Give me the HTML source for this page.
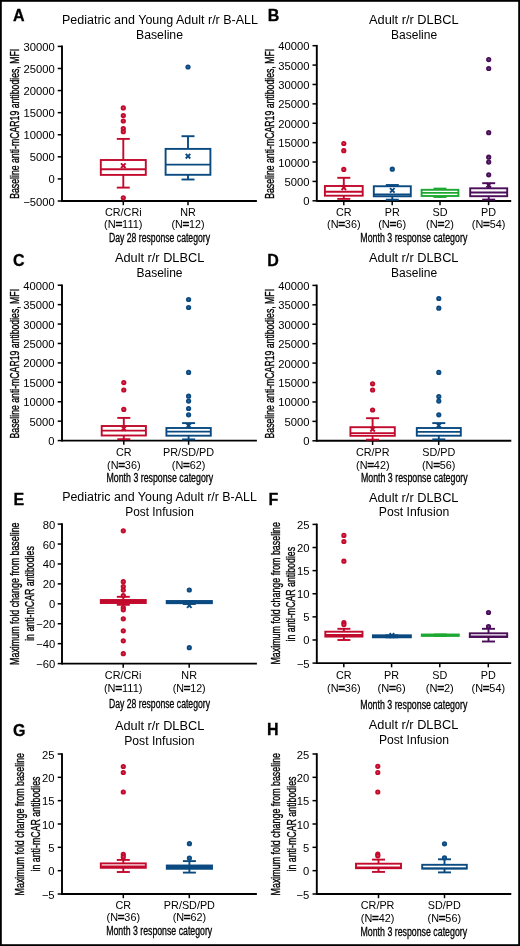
<!DOCTYPE html>
<html><head><meta charset="utf-8"><style>
html,body{margin:0;padding:0;background:#fff;}
body{width:520px;height:946px;overflow:hidden;}
svg{display:block;filter:blur(0.3px);font-family:"Liberation Sans", sans-serif;}
</style></head><body>
<svg width="520" height="946" viewBox="0 0 520 946">
<rect x="0" y="0" width="520" height="946" fill="#fff"/>
<rect x="0.9" y="0.9" width="518.2" height="944.2" fill="none" stroke="#000" stroke-width="1.8"/>
<text x="13" y="21.3" font-size="16" text-anchor="start" font-weight="bold" fill="#000" stroke="#000" stroke-width="0.3">A</text>
<text x="160" y="23.9" font-size="12.3" text-anchor="middle" font-weight="normal" fill="#000" textLength="196" lengthAdjust="spacingAndGlyphs">Pediatric and Young Adult r/r B-ALL</text>
<text x="159.5" y="38.9" font-size="12.3" text-anchor="middle" font-weight="normal" fill="#000" textLength="47" lengthAdjust="spacingAndGlyphs">Baseline</text>
<line x1="62" y1="45.6" x2="62" y2="201.9" stroke="#000" stroke-width="1.9"/>
<line x1="57.7" y1="46.4" x2="62" y2="46.4" stroke="#000" stroke-width="1.5"/>
<text x="54.8" y="50.916000000000004" font-size="10.6" text-anchor="end" font-weight="normal" fill="#000" textLength="31.24" lengthAdjust="spacingAndGlyphs">30000</text>
<line x1="57.7" y1="68.48571428571428" x2="62" y2="68.48571428571428" stroke="#000" stroke-width="1.5"/>
<text x="54.8" y="73.00171428571429" font-size="10.6" text-anchor="end" font-weight="normal" fill="#000" textLength="31.24" lengthAdjust="spacingAndGlyphs">25000</text>
<line x1="57.7" y1="90.57142857142857" x2="62" y2="90.57142857142857" stroke="#000" stroke-width="1.5"/>
<text x="54.8" y="95.08742857142857" font-size="10.6" text-anchor="end" font-weight="normal" fill="#000" textLength="31.24" lengthAdjust="spacingAndGlyphs">20000</text>
<line x1="57.7" y1="112.65714285714284" x2="62" y2="112.65714285714284" stroke="#000" stroke-width="1.5"/>
<text x="54.8" y="117.17314285714285" font-size="10.6" text-anchor="end" font-weight="normal" fill="#000" textLength="31.24" lengthAdjust="spacingAndGlyphs">15000</text>
<line x1="57.7" y1="134.74285714285713" x2="62" y2="134.74285714285713" stroke="#000" stroke-width="1.5"/>
<text x="54.8" y="139.25885714285712" font-size="10.6" text-anchor="end" font-weight="normal" fill="#000" textLength="31.24" lengthAdjust="spacingAndGlyphs">10000</text>
<line x1="57.7" y1="156.82857142857142" x2="62" y2="156.82857142857142" stroke="#000" stroke-width="1.5"/>
<text x="54.8" y="161.3445714285714" font-size="10.6" text-anchor="end" font-weight="normal" fill="#000" textLength="25.0" lengthAdjust="spacingAndGlyphs">5000</text>
<line x1="57.7" y1="178.9142857142857" x2="62" y2="178.9142857142857" stroke="#000" stroke-width="1.5"/>
<text x="54.8" y="183.4302857142857" font-size="10.6" text-anchor="end" font-weight="normal" fill="#000" textLength="6.25" lengthAdjust="spacingAndGlyphs">0</text>
<line x1="57.7" y1="201.0" x2="62" y2="201.0" stroke="#000" stroke-width="1.5"/>
<text x="54.8" y="205.516" font-size="10.6" text-anchor="end" font-weight="normal" fill="#000" textLength="31.56" lengthAdjust="spacingAndGlyphs">−5000</text>
<text transform="translate(19.2,123.8) rotate(-90)" font-size="12.0" text-anchor="middle" font-weight="normal" fill="#000" textLength="150" lengthAdjust="spacingAndGlyphs" stroke="#000" stroke-width="0.35">Baseline anti-mCAR19 antibodies, MFI</text>
<line x1="62" y1="201.0" x2="256.9" y2="201.0" stroke="#000" stroke-width="1.9"/>
<line x1="123.3" y1="201.0" x2="123.3" y2="205.2" stroke="#000" stroke-width="1.5"/>
<line x1="188" y1="201.0" x2="188" y2="205.2" stroke="#000" stroke-width="1.5"/>
<text x="123.3" y="215.7" font-size="10.2" text-anchor="middle" font-weight="normal" fill="#000" textLength="36.64" lengthAdjust="spacingAndGlyphs">CR/CRi</text>
<text x="123.3" y="228.39999999999998" font-size="10.2" text-anchor="middle" font-weight="normal" fill="#000" textLength="38.5" lengthAdjust="spacingAndGlyphs">(N<tspan stroke="#000" stroke-width="0.9">=</tspan>111)</text>
<text x="188" y="215.7" font-size="10.2" text-anchor="middle" font-weight="normal" fill="#000" textLength="15.62" lengthAdjust="spacingAndGlyphs">NR</text>
<text x="188" y="228.39999999999998" font-size="10.2" text-anchor="middle" font-weight="normal" fill="#000" textLength="33" lengthAdjust="spacingAndGlyphs">(N<tspan stroke="#000" stroke-width="0.9">=</tspan>12)</text>
<text x="159.5" y="242.2" font-size="12.0" text-anchor="middle" font-weight="normal" fill="#000" textLength="101" lengthAdjust="spacingAndGlyphs" stroke="#000" stroke-width="0.3">Day 28 response category</text>
<line x1="123.3" y1="138.9" x2="123.3" y2="160.0" stroke="#c20a2c" stroke-width="1.9"/>
<line x1="116.8" y1="138.9" x2="129.8" y2="138.9" stroke="#c20a2c" stroke-width="1.9"/>
<line x1="123.3" y1="174.9" x2="123.3" y2="187.6" stroke="#c20a2c" stroke-width="1.9"/>
<line x1="116.8" y1="187.6" x2="129.8" y2="187.6" stroke="#c20a2c" stroke-width="1.9"/>
<rect x="100.8" y="160.0" width="45.0" height="14.900000000000006" fill="none" stroke="#c20a2c" stroke-width="1.9"/>
<line x1="100.8" y1="169.3" x2="145.8" y2="169.3" stroke="#c20a2c" stroke-width="1.9"/>
<path d="M121.0 163.39999999999998L125.6 168.0M125.6 163.39999999999998L121.0 168.0" stroke="#c20a2c" stroke-width="1.9" fill="none"/>
<circle cx="123.3" cy="107.9" r="1.72" fill="#d84860" stroke="#c20a2c" stroke-width="1.8"/>
<circle cx="123.3" cy="115.5" r="1.72" fill="#d84860" stroke="#c20a2c" stroke-width="1.8"/>
<circle cx="123.3" cy="121.0" r="1.72" fill="#d84860" stroke="#c20a2c" stroke-width="1.8"/>
<circle cx="123.3" cy="128.6" r="1.72" fill="#d84860" stroke="#c20a2c" stroke-width="1.8"/>
<circle cx="123.3" cy="131.7" r="1.72" fill="#d84860" stroke="#c20a2c" stroke-width="1.8"/>
<circle cx="123.3" cy="197.8" r="1.72" fill="#d84860" stroke="#c20a2c" stroke-width="1.8"/>
<line x1="188" y1="136.2" x2="188" y2="148.9" stroke="#0b4a80" stroke-width="1.9"/>
<line x1="181.5" y1="136.2" x2="194.5" y2="136.2" stroke="#0b4a80" stroke-width="1.9"/>
<line x1="188" y1="174.8" x2="188" y2="179.5" stroke="#0b4a80" stroke-width="1.9"/>
<line x1="181.5" y1="179.5" x2="194.5" y2="179.5" stroke="#0b4a80" stroke-width="1.9"/>
<rect x="165.6" y="148.9" width="44.8" height="25.900000000000006" fill="none" stroke="#0b4a80" stroke-width="1.9"/>
<line x1="165.6" y1="164.6" x2="210.4" y2="164.6" stroke="#0b4a80" stroke-width="1.9"/>
<path d="M185.7 153.89999999999998L190.3 158.5M190.3 153.89999999999998L185.7 158.5" stroke="#0b4a80" stroke-width="1.9" fill="none"/>
<circle cx="188" cy="67.0" r="1.72" fill="#3f6f9f" stroke="#0b4a80" stroke-width="1.8"/>
<text x="267.7" y="21.2" font-size="16" text-anchor="start" font-weight="bold" fill="#000" stroke="#000" stroke-width="0.3">B</text>
<text x="413.8" y="23.9" font-size="12.3" text-anchor="middle" font-weight="normal" fill="#000" textLength="89.6" lengthAdjust="spacingAndGlyphs">Adult r/r DLBCL</text>
<text x="414.1" y="38.9" font-size="12.3" text-anchor="middle" font-weight="normal" fill="#000" textLength="46.1" lengthAdjust="spacingAndGlyphs">Baseline</text>
<line x1="316.8" y1="44.900000000000006" x2="316.8" y2="201.70000000000002" stroke="#000" stroke-width="1.9"/>
<line x1="312.5" y1="45.7" x2="316.8" y2="45.7" stroke="#000" stroke-width="1.5"/>
<text x="309.5" y="50.21600000000001" font-size="10.6" text-anchor="end" font-weight="normal" fill="#000" textLength="31.24" lengthAdjust="spacingAndGlyphs">40000</text>
<line x1="312.5" y1="65.0875" x2="316.8" y2="65.0875" stroke="#000" stroke-width="1.5"/>
<text x="309.5" y="69.60350000000001" font-size="10.6" text-anchor="end" font-weight="normal" fill="#000" textLength="31.24" lengthAdjust="spacingAndGlyphs">35000</text>
<line x1="312.5" y1="84.47500000000001" x2="316.8" y2="84.47500000000001" stroke="#000" stroke-width="1.5"/>
<text x="309.5" y="88.99100000000001" font-size="10.6" text-anchor="end" font-weight="normal" fill="#000" textLength="31.24" lengthAdjust="spacingAndGlyphs">30000</text>
<line x1="312.5" y1="103.86250000000001" x2="316.8" y2="103.86250000000001" stroke="#000" stroke-width="1.5"/>
<text x="309.5" y="108.37850000000002" font-size="10.6" text-anchor="end" font-weight="normal" fill="#000" textLength="31.24" lengthAdjust="spacingAndGlyphs">25000</text>
<line x1="312.5" y1="123.25000000000001" x2="316.8" y2="123.25000000000001" stroke="#000" stroke-width="1.5"/>
<text x="309.5" y="127.76600000000002" font-size="10.6" text-anchor="end" font-weight="normal" fill="#000" textLength="31.24" lengthAdjust="spacingAndGlyphs">20000</text>
<line x1="312.5" y1="142.63750000000002" x2="316.8" y2="142.63750000000002" stroke="#000" stroke-width="1.5"/>
<text x="309.5" y="147.1535" font-size="10.6" text-anchor="end" font-weight="normal" fill="#000" textLength="31.24" lengthAdjust="spacingAndGlyphs">15000</text>
<line x1="312.5" y1="162.02500000000003" x2="316.8" y2="162.02500000000003" stroke="#000" stroke-width="1.5"/>
<text x="309.5" y="166.54100000000003" font-size="10.6" text-anchor="end" font-weight="normal" fill="#000" textLength="31.24" lengthAdjust="spacingAndGlyphs">10000</text>
<line x1="312.5" y1="181.41250000000002" x2="316.8" y2="181.41250000000002" stroke="#000" stroke-width="1.5"/>
<text x="309.5" y="185.9285" font-size="10.6" text-anchor="end" font-weight="normal" fill="#000" textLength="25.0" lengthAdjust="spacingAndGlyphs">5000</text>
<line x1="312.5" y1="200.8" x2="316.8" y2="200.8" stroke="#000" stroke-width="1.5"/>
<text x="309.5" y="205.316" font-size="10.6" text-anchor="end" font-weight="normal" fill="#000" textLength="6.25" lengthAdjust="spacingAndGlyphs">0</text>
<text transform="translate(274.0,123.8) rotate(-90)" font-size="12.0" text-anchor="middle" font-weight="normal" fill="#000" textLength="150" lengthAdjust="spacingAndGlyphs" stroke="#000" stroke-width="0.35">Baseline anti-mCAR19 antibodies, MFI</text>
<line x1="316.8" y1="201.0" x2="511.2" y2="201.0" stroke="#000" stroke-width="1.9"/>
<line x1="343.8" y1="201.0" x2="343.8" y2="205.2" stroke="#000" stroke-width="1.5"/>
<line x1="392.2" y1="201.0" x2="392.2" y2="205.2" stroke="#000" stroke-width="1.5"/>
<line x1="440" y1="201.0" x2="440" y2="205.2" stroke="#000" stroke-width="1.5"/>
<line x1="488.6" y1="201.0" x2="488.6" y2="205.2" stroke="#000" stroke-width="1.5"/>
<text x="343.8" y="215.7" font-size="10.2" text-anchor="middle" font-weight="normal" fill="#000" textLength="15.62" lengthAdjust="spacingAndGlyphs">CR</text>
<text x="343.8" y="228.39999999999998" font-size="10.2" text-anchor="middle" font-weight="normal" fill="#000" textLength="33.5" lengthAdjust="spacingAndGlyphs">(N<tspan stroke="#000" stroke-width="0.9">=</tspan>36)</text>
<text x="392.2" y="215.7" font-size="10.2" text-anchor="middle" font-weight="normal" fill="#000" textLength="15.02" lengthAdjust="spacingAndGlyphs">PR</text>
<text x="392.2" y="228.39999999999998" font-size="10.2" text-anchor="middle" font-weight="normal" fill="#000" textLength="28" lengthAdjust="spacingAndGlyphs">(N<tspan stroke="#000" stroke-width="0.9">=</tspan>6)</text>
<text x="440" y="215.7" font-size="10.2" text-anchor="middle" font-weight="normal" fill="#000" textLength="15.02" lengthAdjust="spacingAndGlyphs">SD</text>
<text x="440" y="228.39999999999998" font-size="10.2" text-anchor="middle" font-weight="normal" fill="#000" textLength="28" lengthAdjust="spacingAndGlyphs">(N<tspan stroke="#000" stroke-width="0.9">=</tspan>2)</text>
<text x="488.6" y="215.7" font-size="10.2" text-anchor="middle" font-weight="normal" fill="#000" textLength="15.02" lengthAdjust="spacingAndGlyphs">PD</text>
<text x="488.6" y="228.39999999999998" font-size="10.2" text-anchor="middle" font-weight="normal" fill="#000" textLength="33.5" lengthAdjust="spacingAndGlyphs">(N<tspan stroke="#000" stroke-width="0.9">=</tspan>54)</text>
<text x="413.8" y="242.2" font-size="12.0" text-anchor="middle" font-weight="normal" fill="#000" textLength="107" lengthAdjust="spacingAndGlyphs" stroke="#000" stroke-width="0.3">Month 3 response category</text>
<line x1="343.8" y1="177.8" x2="343.8" y2="186.0" stroke="#c20a2c" stroke-width="1.9"/>
<line x1="337.3" y1="177.8" x2="350.3" y2="177.8" stroke="#c20a2c" stroke-width="1.9"/>
<line x1="343.8" y1="195.7" x2="343.8" y2="198.9" stroke="#c20a2c" stroke-width="1.9"/>
<line x1="337.3" y1="198.9" x2="350.3" y2="198.9" stroke="#c20a2c" stroke-width="1.9"/>
<rect x="324.90000000000003" y="186.0" width="37.8" height="9.699999999999989" fill="none" stroke="#c20a2c" stroke-width="1.9"/>
<line x1="324.90000000000003" y1="191.7" x2="362.7" y2="191.7" stroke="#c20a2c" stroke-width="1.9"/>
<path d="M341.5 185.39999999999998L346.1 190.0M346.1 185.39999999999998L341.5 190.0" stroke="#c20a2c" stroke-width="1.9" fill="none"/>
<circle cx="343.8" cy="143.5" r="1.72" fill="#d84860" stroke="#c20a2c" stroke-width="1.8"/>
<circle cx="343.8" cy="150.7" r="1.72" fill="#d84860" stroke="#c20a2c" stroke-width="1.8"/>
<circle cx="343.8" cy="169.4" r="1.72" fill="#d84860" stroke="#c20a2c" stroke-width="1.8"/>
<line x1="392.3" y1="185.0" x2="392.3" y2="186.25" stroke="#0b4a80" stroke-width="1.9"/>
<line x1="385.8" y1="185.0" x2="398.8" y2="185.0" stroke="#0b4a80" stroke-width="1.9"/>
<line x1="392.3" y1="196.3" x2="392.3" y2="199.7" stroke="#0b4a80" stroke-width="1.9"/>
<line x1="385.8" y1="199.7" x2="398.8" y2="199.7" stroke="#0b4a80" stroke-width="1.9"/>
<rect x="373.8" y="186.25" width="37.0" height="10.050000000000011" fill="none" stroke="#0b4a80" stroke-width="1.9"/>
<line x1="373.8" y1="194.5" x2="410.8" y2="194.5" stroke="#0b4a80" stroke-width="1.9"/>
<path d="M390.0 188.1L394.6 192.70000000000002M394.6 188.1L390.0 192.70000000000002" stroke="#0b4a80" stroke-width="1.9" fill="none"/>
<circle cx="392.3" cy="169.2" r="1.72" fill="#3f6f9f" stroke="#0b4a80" stroke-width="1.8"/>
<line x1="440" y1="188.6" x2="440" y2="189.8" stroke="#1ea832" stroke-width="1.9"/>
<line x1="433.5" y1="188.6" x2="446.5" y2="188.6" stroke="#1ea832" stroke-width="1.9"/>
<line x1="440" y1="196.0" x2="440" y2="197.0" stroke="#1ea832" stroke-width="1.9"/>
<line x1="433.5" y1="197.0" x2="446.5" y2="197.0" stroke="#1ea832" stroke-width="1.9"/>
<rect x="421.6" y="189.8" width="36.8" height="6.199999999999989" fill="none" stroke="#1ea832" stroke-width="1.9"/>
<line x1="421.6" y1="192.9" x2="458.4" y2="192.9" stroke="#1ea832" stroke-width="1.9"/>
<line x1="488.7" y1="183.2" x2="488.7" y2="188.3" stroke="#4a0d58" stroke-width="1.9"/>
<line x1="482.2" y1="183.2" x2="495.2" y2="183.2" stroke="#4a0d58" stroke-width="1.9"/>
<line x1="488.7" y1="196.2" x2="488.7" y2="199.6" stroke="#4a0d58" stroke-width="1.9"/>
<line x1="482.2" y1="199.6" x2="495.2" y2="199.6" stroke="#4a0d58" stroke-width="1.9"/>
<rect x="470.2" y="188.3" width="37.0" height="7.899999999999977" fill="none" stroke="#4a0d58" stroke-width="1.9"/>
<line x1="470.2" y1="192.5" x2="507.2" y2="192.5" stroke="#4a0d58" stroke-width="1.9"/>
<path d="M486.4 182.89999999999998L491.0 187.5M491.0 182.89999999999998L486.4 187.5" stroke="#4a0d58" stroke-width="1.9" fill="none"/>
<circle cx="488.7" cy="59.6" r="1.72" fill="#6f4a80" stroke="#4a0d58" stroke-width="1.8"/>
<circle cx="488.7" cy="68.5" r="1.72" fill="#6f4a80" stroke="#4a0d58" stroke-width="1.8"/>
<circle cx="488.7" cy="132.7" r="1.72" fill="#6f4a80" stroke="#4a0d58" stroke-width="1.8"/>
<circle cx="488.7" cy="157.2" r="1.72" fill="#6f4a80" stroke="#4a0d58" stroke-width="1.8"/>
<circle cx="488.7" cy="162.1" r="1.72" fill="#6f4a80" stroke="#4a0d58" stroke-width="1.8"/>
<circle cx="488.7" cy="174.8" r="1.72" fill="#6f4a80" stroke="#4a0d58" stroke-width="1.8"/>
<text x="13" y="266.3" font-size="16" text-anchor="start" font-weight="bold" fill="#000" stroke="#000" stroke-width="0.3">C</text>
<text x="159.6" y="261.9" font-size="12.3" text-anchor="middle" font-weight="normal" fill="#000" textLength="89.3" lengthAdjust="spacingAndGlyphs">Adult r/r DLBCL</text>
<text x="159.5" y="276.9" font-size="12.3" text-anchor="middle" font-weight="normal" fill="#000" textLength="46.1" lengthAdjust="spacingAndGlyphs">Baseline</text>
<line x1="62" y1="284.4" x2="62" y2="441.5" stroke="#000" stroke-width="1.9"/>
<line x1="57.7" y1="285.2" x2="62" y2="285.2" stroke="#000" stroke-width="1.5"/>
<text x="54.6" y="289.71599999999995" font-size="10.6" text-anchor="end" font-weight="normal" fill="#000" textLength="31.24" lengthAdjust="spacingAndGlyphs">40000</text>
<line x1="57.7" y1="304.625" x2="62" y2="304.625" stroke="#000" stroke-width="1.5"/>
<text x="54.6" y="309.14099999999996" font-size="10.6" text-anchor="end" font-weight="normal" fill="#000" textLength="31.24" lengthAdjust="spacingAndGlyphs">35000</text>
<line x1="57.7" y1="324.05" x2="62" y2="324.05" stroke="#000" stroke-width="1.5"/>
<text x="54.6" y="328.566" font-size="10.6" text-anchor="end" font-weight="normal" fill="#000" textLength="31.24" lengthAdjust="spacingAndGlyphs">30000</text>
<line x1="57.7" y1="343.475" x2="62" y2="343.475" stroke="#000" stroke-width="1.5"/>
<text x="54.6" y="347.991" font-size="10.6" text-anchor="end" font-weight="normal" fill="#000" textLength="31.24" lengthAdjust="spacingAndGlyphs">25000</text>
<line x1="57.7" y1="362.9" x2="62" y2="362.9" stroke="#000" stroke-width="1.5"/>
<text x="54.6" y="367.41599999999994" font-size="10.6" text-anchor="end" font-weight="normal" fill="#000" textLength="31.24" lengthAdjust="spacingAndGlyphs">20000</text>
<line x1="57.7" y1="382.32500000000005" x2="62" y2="382.32500000000005" stroke="#000" stroke-width="1.5"/>
<text x="54.6" y="386.841" font-size="10.6" text-anchor="end" font-weight="normal" fill="#000" textLength="31.24" lengthAdjust="spacingAndGlyphs">15000</text>
<line x1="57.7" y1="401.75" x2="62" y2="401.75" stroke="#000" stroke-width="1.5"/>
<text x="54.6" y="406.26599999999996" font-size="10.6" text-anchor="end" font-weight="normal" fill="#000" textLength="31.24" lengthAdjust="spacingAndGlyphs">10000</text>
<line x1="57.7" y1="421.175" x2="62" y2="421.175" stroke="#000" stroke-width="1.5"/>
<text x="54.6" y="425.691" font-size="10.6" text-anchor="end" font-weight="normal" fill="#000" textLength="25.0" lengthAdjust="spacingAndGlyphs">5000</text>
<line x1="57.7" y1="440.6" x2="62" y2="440.6" stroke="#000" stroke-width="1.5"/>
<text x="54.6" y="445.116" font-size="10.6" text-anchor="end" font-weight="normal" fill="#000" textLength="6.25" lengthAdjust="spacingAndGlyphs">0</text>
<text transform="translate(19.2,363.7) rotate(-90)" font-size="12.0" text-anchor="middle" font-weight="normal" fill="#000" textLength="149.5" lengthAdjust="spacingAndGlyphs" stroke="#000" stroke-width="0.35">Baseline anti-mCAR19 antibodies, MFI</text>
<line x1="62" y1="440.6" x2="256.9" y2="440.6" stroke="#000" stroke-width="1.9"/>
<line x1="123.8" y1="440.6" x2="123.8" y2="444.8" stroke="#000" stroke-width="1.5"/>
<line x1="188.6" y1="440.6" x2="188.6" y2="444.8" stroke="#000" stroke-width="1.5"/>
<text x="123.8" y="455.8" font-size="10.2" text-anchor="middle" font-weight="normal" fill="#000" textLength="15.62" lengthAdjust="spacingAndGlyphs">CR</text>
<text x="123.8" y="468.5" font-size="10.2" text-anchor="middle" font-weight="normal" fill="#000" textLength="33.5" lengthAdjust="spacingAndGlyphs">(N<tspan stroke="#000" stroke-width="0.9">=</tspan>36)</text>
<text x="188.6" y="455.8" font-size="10.2" text-anchor="middle" font-weight="normal" fill="#000" textLength="51.07" lengthAdjust="spacingAndGlyphs">PR/SD/PD</text>
<text x="188.6" y="468.5" font-size="10.2" text-anchor="middle" font-weight="normal" fill="#000" textLength="33.5" lengthAdjust="spacingAndGlyphs">(N<tspan stroke="#000" stroke-width="0.9">=</tspan>62)</text>
<text x="159.8" y="481.6" font-size="12.0" text-anchor="middle" font-weight="normal" fill="#000" textLength="106.6" lengthAdjust="spacingAndGlyphs" stroke="#000" stroke-width="0.3">Month 3 response category</text>
<line x1="123.8" y1="417.9" x2="123.8" y2="426.0" stroke="#c20a2c" stroke-width="1.9"/>
<line x1="117.3" y1="417.9" x2="130.3" y2="417.9" stroke="#c20a2c" stroke-width="1.9"/>
<line x1="123.8" y1="435.5" x2="123.8" y2="439.2" stroke="#c20a2c" stroke-width="1.9"/>
<line x1="117.3" y1="439.2" x2="130.3" y2="439.2" stroke="#c20a2c" stroke-width="1.9"/>
<rect x="101.69999999999999" y="426.0" width="44.2" height="9.5" fill="none" stroke="#c20a2c" stroke-width="1.9"/>
<line x1="101.69999999999999" y1="430.6" x2="145.9" y2="430.6" stroke="#c20a2c" stroke-width="1.9"/>
<path d="M121.5 426.2L126.1 430.8M126.1 426.2L121.5 430.8" stroke="#c20a2c" stroke-width="1.9" fill="none"/>
<circle cx="123.8" cy="382.6" r="1.72" fill="#d84860" stroke="#c20a2c" stroke-width="1.8"/>
<circle cx="123.8" cy="390.0" r="1.72" fill="#d84860" stroke="#c20a2c" stroke-width="1.8"/>
<circle cx="123.8" cy="409.4" r="1.72" fill="#d84860" stroke="#c20a2c" stroke-width="1.8"/>
<line x1="188.6" y1="423.1" x2="188.6" y2="428.0" stroke="#0b4a80" stroke-width="1.9"/>
<line x1="182.1" y1="423.1" x2="195.1" y2="423.1" stroke="#0b4a80" stroke-width="1.9"/>
<line x1="188.6" y1="435.7" x2="188.6" y2="439.4" stroke="#0b4a80" stroke-width="1.9"/>
<line x1="182.1" y1="439.4" x2="195.1" y2="439.4" stroke="#0b4a80" stroke-width="1.9"/>
<rect x="166.4" y="428.0" width="44.4" height="7.699999999999989" fill="none" stroke="#0b4a80" stroke-width="1.9"/>
<line x1="166.4" y1="431.6" x2="210.79999999999998" y2="431.6" stroke="#0b4a80" stroke-width="1.9"/>
<path d="M186.29999999999998 423.3L190.9 427.90000000000003M190.9 423.3L186.29999999999998 427.90000000000003" stroke="#0b4a80" stroke-width="1.9" fill="none"/>
<circle cx="188.6" cy="299.5" r="1.72" fill="#3f6f9f" stroke="#0b4a80" stroke-width="1.8"/>
<circle cx="188.6" cy="307.5" r="1.72" fill="#3f6f9f" stroke="#0b4a80" stroke-width="1.8"/>
<circle cx="188.6" cy="372.4" r="1.72" fill="#3f6f9f" stroke="#0b4a80" stroke-width="1.8"/>
<circle cx="188.6" cy="396.2" r="1.72" fill="#3f6f9f" stroke="#0b4a80" stroke-width="1.8"/>
<circle cx="188.6" cy="401.1" r="1.72" fill="#3f6f9f" stroke="#0b4a80" stroke-width="1.8"/>
<circle cx="188.6" cy="408.5" r="1.72" fill="#3f6f9f" stroke="#0b4a80" stroke-width="1.8"/>
<circle cx="188.6" cy="414.8" r="1.72" fill="#3f6f9f" stroke="#0b4a80" stroke-width="1.8"/>
<text x="267.3" y="266.3" font-size="16" text-anchor="start" font-weight="bold" fill="#000" stroke="#000" stroke-width="0.3">D</text>
<text x="413.7" y="261.9" font-size="12.3" text-anchor="middle" font-weight="normal" fill="#000" textLength="89.6" lengthAdjust="spacingAndGlyphs">Adult r/r DLBCL</text>
<text x="414.1" y="276.9" font-size="12.3" text-anchor="middle" font-weight="normal" fill="#000" textLength="46.1" lengthAdjust="spacingAndGlyphs">Baseline</text>
<line x1="316.7" y1="284.59999999999997" x2="316.7" y2="441.7" stroke="#000" stroke-width="1.9"/>
<line x1="312.4" y1="285.4" x2="316.7" y2="285.4" stroke="#000" stroke-width="1.5"/>
<text x="309.4" y="289.91599999999994" font-size="10.6" text-anchor="end" font-weight="normal" fill="#000" textLength="31.24" lengthAdjust="spacingAndGlyphs">40000</text>
<line x1="312.4" y1="304.825" x2="316.7" y2="304.825" stroke="#000" stroke-width="1.5"/>
<text x="309.4" y="309.34099999999995" font-size="10.6" text-anchor="end" font-weight="normal" fill="#000" textLength="31.24" lengthAdjust="spacingAndGlyphs">35000</text>
<line x1="312.4" y1="324.25" x2="316.7" y2="324.25" stroke="#000" stroke-width="1.5"/>
<text x="309.4" y="328.76599999999996" font-size="10.6" text-anchor="end" font-weight="normal" fill="#000" textLength="31.24" lengthAdjust="spacingAndGlyphs">30000</text>
<line x1="312.4" y1="343.675" x2="316.7" y2="343.675" stroke="#000" stroke-width="1.5"/>
<text x="309.4" y="348.191" font-size="10.6" text-anchor="end" font-weight="normal" fill="#000" textLength="31.24" lengthAdjust="spacingAndGlyphs">25000</text>
<line x1="312.4" y1="363.1" x2="316.7" y2="363.1" stroke="#000" stroke-width="1.5"/>
<text x="309.4" y="367.616" font-size="10.6" text-anchor="end" font-weight="normal" fill="#000" textLength="31.24" lengthAdjust="spacingAndGlyphs">20000</text>
<line x1="312.4" y1="382.525" x2="316.7" y2="382.525" stroke="#000" stroke-width="1.5"/>
<text x="309.4" y="387.04099999999994" font-size="10.6" text-anchor="end" font-weight="normal" fill="#000" textLength="31.24" lengthAdjust="spacingAndGlyphs">15000</text>
<line x1="312.4" y1="401.95" x2="316.7" y2="401.95" stroke="#000" stroke-width="1.5"/>
<text x="309.4" y="406.46599999999995" font-size="10.6" text-anchor="end" font-weight="normal" fill="#000" textLength="31.24" lengthAdjust="spacingAndGlyphs">10000</text>
<line x1="312.4" y1="421.375" x2="316.7" y2="421.375" stroke="#000" stroke-width="1.5"/>
<text x="309.4" y="425.89099999999996" font-size="10.6" text-anchor="end" font-weight="normal" fill="#000" textLength="25.0" lengthAdjust="spacingAndGlyphs">5000</text>
<line x1="312.4" y1="440.8" x2="316.7" y2="440.8" stroke="#000" stroke-width="1.5"/>
<text x="309.4" y="445.316" font-size="10.6" text-anchor="end" font-weight="normal" fill="#000" textLength="6.25" lengthAdjust="spacingAndGlyphs">0</text>
<text transform="translate(274.2,363.7) rotate(-90)" font-size="12.0" text-anchor="middle" font-weight="normal" fill="#000" textLength="149.5" lengthAdjust="spacingAndGlyphs" stroke="#000" stroke-width="0.35">Baseline anti-mCAR19 antibodies, MFI</text>
<line x1="316.7" y1="440.8" x2="511.3" y2="440.8" stroke="#000" stroke-width="1.9"/>
<line x1="372.6" y1="440.8" x2="372.6" y2="445.0" stroke="#000" stroke-width="1.5"/>
<line x1="438.7" y1="440.8" x2="438.7" y2="445.0" stroke="#000" stroke-width="1.5"/>
<text x="372.8" y="455.8" font-size="10.2" text-anchor="middle" font-weight="normal" fill="#000" textLength="33.64" lengthAdjust="spacingAndGlyphs">CR/PR</text>
<text x="372.8" y="468.5" font-size="10.2" text-anchor="middle" font-weight="normal" fill="#000" textLength="33.5" lengthAdjust="spacingAndGlyphs">(N<tspan stroke="#000" stroke-width="0.9">=</tspan>42)</text>
<text x="438.7" y="455.8" font-size="10.2" text-anchor="middle" font-weight="normal" fill="#000" textLength="33.04" lengthAdjust="spacingAndGlyphs">SD/PD</text>
<text x="438.7" y="468.5" font-size="10.2" text-anchor="middle" font-weight="normal" fill="#000" textLength="33.5" lengthAdjust="spacingAndGlyphs">(N<tspan stroke="#000" stroke-width="0.9">=</tspan>56)</text>
<text x="414.3" y="481.8" font-size="12.0" text-anchor="middle" font-weight="normal" fill="#000" textLength="106.7" lengthAdjust="spacingAndGlyphs" stroke="#000" stroke-width="0.3">Month 3 response category</text>
<line x1="372.6" y1="418.2" x2="372.6" y2="427.2" stroke="#c20a2c" stroke-width="1.9"/>
<line x1="366.1" y1="418.2" x2="379.1" y2="418.2" stroke="#c20a2c" stroke-width="1.9"/>
<line x1="372.6" y1="435.8" x2="372.6" y2="439.7" stroke="#c20a2c" stroke-width="1.9"/>
<line x1="366.1" y1="439.7" x2="379.1" y2="439.7" stroke="#c20a2c" stroke-width="1.9"/>
<rect x="350.40000000000003" y="427.2" width="44.4" height="8.600000000000023" fill="none" stroke="#c20a2c" stroke-width="1.9"/>
<line x1="350.40000000000003" y1="433.1" x2="394.8" y2="433.1" stroke="#c20a2c" stroke-width="1.9"/>
<path d="M370.3 426.9L374.90000000000003 431.5M374.90000000000003 426.9L370.3 431.5" stroke="#c20a2c" stroke-width="1.9" fill="none"/>
<circle cx="372.6" cy="383.8" r="1.72" fill="#d84860" stroke="#c20a2c" stroke-width="1.8"/>
<circle cx="372.6" cy="390.0" r="1.72" fill="#d84860" stroke="#c20a2c" stroke-width="1.8"/>
<circle cx="372.6" cy="410.0" r="1.72" fill="#d84860" stroke="#c20a2c" stroke-width="1.8"/>
<line x1="438.8" y1="423.1" x2="438.8" y2="428.0" stroke="#0b4a80" stroke-width="1.9"/>
<line x1="432.3" y1="423.1" x2="445.3" y2="423.1" stroke="#0b4a80" stroke-width="1.9"/>
<line x1="438.8" y1="435.7" x2="438.8" y2="439.4" stroke="#0b4a80" stroke-width="1.9"/>
<line x1="432.3" y1="439.4" x2="445.3" y2="439.4" stroke="#0b4a80" stroke-width="1.9"/>
<rect x="416.8" y="428.0" width="44.0" height="7.699999999999989" fill="none" stroke="#0b4a80" stroke-width="1.9"/>
<line x1="416.8" y1="431.9" x2="460.8" y2="431.9" stroke="#0b4a80" stroke-width="1.9"/>
<path d="M436.5 423.2L441.1 427.8M441.1 423.2L436.5 427.8" stroke="#0b4a80" stroke-width="1.9" fill="none"/>
<circle cx="438.8" cy="298.5" r="1.72" fill="#3f6f9f" stroke="#0b4a80" stroke-width="1.8"/>
<circle cx="438.8" cy="308.2" r="1.72" fill="#3f6f9f" stroke="#0b4a80" stroke-width="1.8"/>
<circle cx="438.8" cy="372.4" r="1.72" fill="#3f6f9f" stroke="#0b4a80" stroke-width="1.8"/>
<circle cx="438.8" cy="396.6" r="1.72" fill="#3f6f9f" stroke="#0b4a80" stroke-width="1.8"/>
<circle cx="438.8" cy="401.1" r="1.72" fill="#3f6f9f" stroke="#0b4a80" stroke-width="1.8"/>
<circle cx="438.8" cy="414.8" r="1.72" fill="#3f6f9f" stroke="#0b4a80" stroke-width="1.8"/>
<text x="13.5" y="505" font-size="16" text-anchor="start" font-weight="bold" fill="#000" stroke="#000" stroke-width="0.3">E</text>
<text x="159.5" y="501.1" font-size="12.3" text-anchor="middle" font-weight="normal" fill="#000" textLength="194.7" lengthAdjust="spacingAndGlyphs">Pediatric and Young Adult r/r B-ALL</text>
<text x="159.5" y="515.5" font-size="12.3" text-anchor="middle" font-weight="normal" fill="#000" textLength="68.5" lengthAdjust="spacingAndGlyphs">Post Infusion</text>
<line x1="62" y1="523.3000000000001" x2="62" y2="664.5" stroke="#000" stroke-width="1.9"/>
<line x1="57.7" y1="524.1" x2="62" y2="524.1" stroke="#000" stroke-width="1.5"/>
<text x="55.2" y="528.6160000000001" font-size="10.6" text-anchor="end" font-weight="normal" fill="#000" textLength="12.5" lengthAdjust="spacingAndGlyphs">80</text>
<line x1="57.7" y1="544.0285714285715" x2="62" y2="544.0285714285715" stroke="#000" stroke-width="1.5"/>
<text x="55.2" y="548.5445714285715" font-size="10.6" text-anchor="end" font-weight="normal" fill="#000" textLength="12.5" lengthAdjust="spacingAndGlyphs">60</text>
<line x1="57.7" y1="563.9571428571429" x2="62" y2="563.9571428571429" stroke="#000" stroke-width="1.5"/>
<text x="55.2" y="568.473142857143" font-size="10.6" text-anchor="end" font-weight="normal" fill="#000" textLength="12.5" lengthAdjust="spacingAndGlyphs">40</text>
<line x1="57.7" y1="583.8857142857144" x2="62" y2="583.8857142857144" stroke="#000" stroke-width="1.5"/>
<text x="55.2" y="588.4017142857144" font-size="10.6" text-anchor="end" font-weight="normal" fill="#000" textLength="12.5" lengthAdjust="spacingAndGlyphs">20</text>
<line x1="57.7" y1="603.8142857142857" x2="62" y2="603.8142857142857" stroke="#000" stroke-width="1.5"/>
<text x="55.2" y="608.3302857142858" font-size="10.6" text-anchor="end" font-weight="normal" fill="#000" textLength="6.25" lengthAdjust="spacingAndGlyphs">0</text>
<line x1="57.7" y1="623.7428571428571" x2="62" y2="623.7428571428571" stroke="#000" stroke-width="1.5"/>
<text x="55.2" y="628.2588571428572" font-size="10.6" text-anchor="end" font-weight="normal" fill="#000" textLength="19.06" lengthAdjust="spacingAndGlyphs">−20</text>
<line x1="57.7" y1="643.6714285714286" x2="62" y2="643.6714285714286" stroke="#000" stroke-width="1.5"/>
<text x="55.2" y="648.1874285714287" font-size="10.6" text-anchor="end" font-weight="normal" fill="#000" textLength="19.06" lengthAdjust="spacingAndGlyphs">−40</text>
<line x1="57.7" y1="663.6" x2="62" y2="663.6" stroke="#000" stroke-width="1.5"/>
<text x="55.2" y="668.1160000000001" font-size="10.6" text-anchor="end" font-weight="normal" fill="#000" textLength="19.06" lengthAdjust="spacingAndGlyphs">−60</text>
<text transform="translate(18.8,593.7) rotate(-90)" font-size="12.0" text-anchor="middle" font-weight="normal" fill="#000" textLength="142.4" lengthAdjust="spacingAndGlyphs" stroke="#000" stroke-width="0.35">Maximum fold change from baseline</text>
<text transform="translate(34.2,593.5) rotate(-90)" font-size="12.0" text-anchor="middle" font-weight="normal" fill="#000" textLength="94.7" lengthAdjust="spacingAndGlyphs" stroke="#000" stroke-width="0.35">in anti-mCAR antibodies</text>
<line x1="62" y1="663.6" x2="256.9" y2="663.6" stroke="#000" stroke-width="1.9"/>
<line x1="123.2" y1="663.6" x2="123.2" y2="667.8000000000001" stroke="#000" stroke-width="1.5"/>
<line x1="189.2" y1="663.6" x2="189.2" y2="667.8000000000001" stroke="#000" stroke-width="1.5"/>
<text x="123.2" y="678.9" font-size="10.2" text-anchor="middle" font-weight="normal" fill="#000" textLength="36.64" lengthAdjust="spacingAndGlyphs">CR/CRi</text>
<text x="123.2" y="691.6" font-size="10.2" text-anchor="middle" font-weight="normal" fill="#000" textLength="38.5" lengthAdjust="spacingAndGlyphs">(N<tspan stroke="#000" stroke-width="0.9">=</tspan>111)</text>
<text x="189.2" y="678.9" font-size="10.2" text-anchor="middle" font-weight="normal" fill="#000" textLength="15.62" lengthAdjust="spacingAndGlyphs">NR</text>
<text x="189.2" y="691.6" font-size="10.2" text-anchor="middle" font-weight="normal" fill="#000" textLength="33" lengthAdjust="spacingAndGlyphs">(N<tspan stroke="#000" stroke-width="0.9">=</tspan>12)</text>
<text x="159.5" y="708.4" font-size="12.0" text-anchor="middle" font-weight="normal" fill="#000" textLength="101" lengthAdjust="spacingAndGlyphs" stroke="#000" stroke-width="0.3">Day 28 response category</text>
<line x1="123.3" y1="596.8" x2="123.3" y2="600.0" stroke="#c20a2c" stroke-width="1.9"/>
<line x1="116.8" y1="596.8" x2="129.8" y2="596.8" stroke="#c20a2c" stroke-width="1.9"/>
<line x1="123.3" y1="603.0" x2="123.3" y2="604.8" stroke="#c20a2c" stroke-width="1.9"/>
<line x1="116.8" y1="604.8" x2="129.8" y2="604.8" stroke="#c20a2c" stroke-width="1.9"/>
<rect x="100.8" y="600.0" width="45.0" height="3.0" fill="#c20a2c" stroke="#c20a2c" stroke-width="1.9"/>
<line x1="100.8" y1="602.5" x2="145.8" y2="602.5" stroke="#c20a2c" stroke-width="1.9"/>
<circle cx="123.3" cy="530.8" r="1.72" fill="#d84860" stroke="#c20a2c" stroke-width="1.8"/>
<circle cx="123.3" cy="581.7" r="1.72" fill="#d84860" stroke="#c20a2c" stroke-width="1.8"/>
<circle cx="123.3" cy="586.6" r="1.72" fill="#d84860" stroke="#c20a2c" stroke-width="1.8"/>
<circle cx="123.3" cy="590.1" r="1.72" fill="#d84860" stroke="#c20a2c" stroke-width="1.8"/>
<circle cx="123.3" cy="595.6" r="1.72" fill="#d84860" stroke="#c20a2c" stroke-width="1.8"/>
<circle cx="123.3" cy="607.6" r="1.72" fill="#d84860" stroke="#c20a2c" stroke-width="1.8"/>
<circle cx="123.3" cy="609.8" r="1.72" fill="#d84860" stroke="#c20a2c" stroke-width="1.8"/>
<circle cx="123.3" cy="618.8" r="1.72" fill="#d84860" stroke="#c20a2c" stroke-width="1.8"/>
<circle cx="123.3" cy="630.8" r="1.72" fill="#d84860" stroke="#c20a2c" stroke-width="1.8"/>
<circle cx="123.3" cy="640.8" r="1.72" fill="#d84860" stroke="#c20a2c" stroke-width="1.8"/>
<circle cx="123.3" cy="653.7" r="1.72" fill="#d84860" stroke="#c20a2c" stroke-width="1.8"/>
<line x1="189.3" y1="601.2" x2="189.3" y2="601.0" stroke="#0b4a80" stroke-width="1.9"/>
<line x1="182.8" y1="601.2" x2="195.8" y2="601.2" stroke="#0b4a80" stroke-width="1.9"/>
<line x1="189.3" y1="603.2" x2="189.3" y2="604.0" stroke="#0b4a80" stroke-width="1.9"/>
<line x1="182.8" y1="604.0" x2="195.8" y2="604.0" stroke="#0b4a80" stroke-width="1.9"/>
<rect x="166.70000000000002" y="601.0" width="45.2" height="2.2000000000000455" fill="none" stroke="#0b4a80" stroke-width="1.9"/>
<line x1="166.70000000000002" y1="602.0" x2="211.9" y2="602.0" stroke="#0b4a80" stroke-width="1.9"/>
<path d="M187.0 603.3000000000001L191.60000000000002 607.9M191.60000000000002 603.3000000000001L187.0 607.9" stroke="#0b4a80" stroke-width="1.9" fill="none"/>
<circle cx="189.3" cy="590.0" r="1.72" fill="#3f6f9f" stroke="#0b4a80" stroke-width="1.8"/>
<circle cx="189.3" cy="647.7" r="1.72" fill="#3f6f9f" stroke="#0b4a80" stroke-width="1.8"/>
<text x="268.5" y="505" font-size="16" text-anchor="start" font-weight="bold" fill="#000" stroke="#000" stroke-width="0.3">F</text>
<text x="413.7" y="501.5" font-size="12.3" text-anchor="middle" font-weight="normal" fill="#000" textLength="89.6" lengthAdjust="spacingAndGlyphs">Adult r/r DLBCL</text>
<text x="414.0" y="516.3" font-size="12.3" text-anchor="middle" font-weight="normal" fill="#000" textLength="70.4" lengthAdjust="spacingAndGlyphs">Post Infusion</text>
<line x1="316.8" y1="523.6" x2="316.8" y2="664.0" stroke="#000" stroke-width="1.9"/>
<line x1="312.5" y1="524.4" x2="316.8" y2="524.4" stroke="#000" stroke-width="1.5"/>
<text x="309.6" y="528.916" font-size="10.6" text-anchor="end" font-weight="normal" fill="#000" textLength="12.5" lengthAdjust="spacingAndGlyphs">25</text>
<line x1="312.5" y1="547.5166666666667" x2="316.8" y2="547.5166666666667" stroke="#000" stroke-width="1.5"/>
<text x="309.6" y="552.0326666666667" font-size="10.6" text-anchor="end" font-weight="normal" fill="#000" textLength="12.5" lengthAdjust="spacingAndGlyphs">20</text>
<line x1="312.5" y1="570.6333333333333" x2="316.8" y2="570.6333333333333" stroke="#000" stroke-width="1.5"/>
<text x="309.6" y="575.1493333333334" font-size="10.6" text-anchor="end" font-weight="normal" fill="#000" textLength="12.5" lengthAdjust="spacingAndGlyphs">15</text>
<line x1="312.5" y1="593.75" x2="316.8" y2="593.75" stroke="#000" stroke-width="1.5"/>
<text x="309.6" y="598.2660000000001" font-size="10.6" text-anchor="end" font-weight="normal" fill="#000" textLength="12.5" lengthAdjust="spacingAndGlyphs">10</text>
<line x1="312.5" y1="616.8666666666667" x2="316.8" y2="616.8666666666667" stroke="#000" stroke-width="1.5"/>
<text x="309.6" y="621.3826666666668" font-size="10.6" text-anchor="end" font-weight="normal" fill="#000" textLength="6.25" lengthAdjust="spacingAndGlyphs">5</text>
<line x1="312.5" y1="639.9833333333333" x2="316.8" y2="639.9833333333333" stroke="#000" stroke-width="1.5"/>
<text x="309.6" y="644.4993333333334" font-size="10.6" text-anchor="end" font-weight="normal" fill="#000" textLength="6.25" lengthAdjust="spacingAndGlyphs">0</text>
<line x1="312.5" y1="663.1" x2="316.8" y2="663.1" stroke="#000" stroke-width="1.5"/>
<text x="309.6" y="667.6160000000001" font-size="10.6" text-anchor="end" font-weight="normal" fill="#000" textLength="12.81" lengthAdjust="spacingAndGlyphs">−5</text>
<text transform="translate(279.8,593.3) rotate(-90)" font-size="12.0" text-anchor="middle" font-weight="normal" fill="#000" textLength="142.6" lengthAdjust="spacingAndGlyphs" stroke="#000" stroke-width="0.35">Maximum fold change from baseline</text>
<text transform="translate(294.6,594.2) rotate(-90)" font-size="12.0" text-anchor="middle" font-weight="normal" fill="#000" textLength="94.6" lengthAdjust="spacingAndGlyphs" stroke="#000" stroke-width="0.35">in anti-mCAR antibodies</text>
<line x1="316.8" y1="663.1" x2="511.2" y2="663.1" stroke="#000" stroke-width="1.9"/>
<line x1="343.8" y1="663.1" x2="343.8" y2="667.3000000000001" stroke="#000" stroke-width="1.5"/>
<line x1="391.6" y1="663.1" x2="391.6" y2="667.3000000000001" stroke="#000" stroke-width="1.5"/>
<line x1="439.8" y1="663.1" x2="439.8" y2="667.3000000000001" stroke="#000" stroke-width="1.5"/>
<line x1="488.3" y1="663.1" x2="488.3" y2="667.3000000000001" stroke="#000" stroke-width="1.5"/>
<text x="343.8" y="679.2" font-size="10.2" text-anchor="middle" font-weight="normal" fill="#000" textLength="15.62" lengthAdjust="spacingAndGlyphs">CR</text>
<text x="343.8" y="691.9000000000001" font-size="10.2" text-anchor="middle" font-weight="normal" fill="#000" textLength="33.5" lengthAdjust="spacingAndGlyphs">(N<tspan stroke="#000" stroke-width="0.9">=</tspan>36)</text>
<text x="391.6" y="679.2" font-size="10.2" text-anchor="middle" font-weight="normal" fill="#000" textLength="15.02" lengthAdjust="spacingAndGlyphs">PR</text>
<text x="391.6" y="691.9000000000001" font-size="10.2" text-anchor="middle" font-weight="normal" fill="#000" textLength="28" lengthAdjust="spacingAndGlyphs">(N<tspan stroke="#000" stroke-width="0.9">=</tspan>6)</text>
<text x="439.8" y="679.2" font-size="10.2" text-anchor="middle" font-weight="normal" fill="#000" textLength="15.02" lengthAdjust="spacingAndGlyphs">SD</text>
<text x="439.8" y="691.9000000000001" font-size="10.2" text-anchor="middle" font-weight="normal" fill="#000" textLength="28" lengthAdjust="spacingAndGlyphs">(N<tspan stroke="#000" stroke-width="0.9">=</tspan>2)</text>
<text x="488.3" y="679.2" font-size="10.2" text-anchor="middle" font-weight="normal" fill="#000" textLength="15.02" lengthAdjust="spacingAndGlyphs">PD</text>
<text x="488.3" y="691.9000000000001" font-size="10.2" text-anchor="middle" font-weight="normal" fill="#000" textLength="33.5" lengthAdjust="spacingAndGlyphs">(N<tspan stroke="#000" stroke-width="0.9">=</tspan>54)</text>
<text x="413.8" y="709.3" font-size="12.0" text-anchor="middle" font-weight="normal" fill="#000" textLength="107" lengthAdjust="spacingAndGlyphs" stroke="#000" stroke-width="0.3">Month 3 response category</text>
<line x1="343.9" y1="628.8" x2="343.9" y2="631.7" stroke="#c20a2c" stroke-width="1.9"/>
<line x1="337.4" y1="628.8" x2="350.4" y2="628.8" stroke="#c20a2c" stroke-width="1.9"/>
<line x1="343.9" y1="636.6" x2="343.9" y2="640.0" stroke="#c20a2c" stroke-width="1.9"/>
<line x1="337.4" y1="640.0" x2="350.4" y2="640.0" stroke="#c20a2c" stroke-width="1.9"/>
<rect x="325.29999999999995" y="631.7" width="37.2" height="4.899999999999977" fill="none" stroke="#c20a2c" stroke-width="1.9"/>
<line x1="325.29999999999995" y1="635.0" x2="362.5" y2="635.0" stroke="#c20a2c" stroke-width="1.9"/>
<circle cx="343.9" cy="622.6" r="1.72" fill="#d84860" stroke="#c20a2c" stroke-width="1.8"/>
<circle cx="343.9" cy="624.6" r="1.72" fill="#d84860" stroke="#c20a2c" stroke-width="1.8"/>
<circle cx="343.9" cy="535.4" r="1.72" fill="#d84860" stroke="#c20a2c" stroke-width="1.8"/>
<circle cx="343.9" cy="541.5" r="1.72" fill="#d84860" stroke="#c20a2c" stroke-width="1.8"/>
<circle cx="343.9" cy="561.2" r="1.72" fill="#d84860" stroke="#c20a2c" stroke-width="1.8"/>
<line x1="391.9" y1="635.3" x2="391.9" y2="635.3" stroke="#0b4a80" stroke-width="1.9"/>
<line x1="385.4" y1="635.3" x2="398.4" y2="635.3" stroke="#0b4a80" stroke-width="1.9"/>
<line x1="391.9" y1="637.3" x2="391.9" y2="637.3" stroke="#0b4a80" stroke-width="1.9"/>
<line x1="385.4" y1="637.3" x2="398.4" y2="637.3" stroke="#0b4a80" stroke-width="1.9"/>
<rect x="372.9" y="635.3" width="38.0" height="2.0" fill="none" stroke="#0b4a80" stroke-width="1.9"/>
<line x1="372.9" y1="636.4" x2="410.9" y2="636.4" stroke="#0b4a80" stroke-width="1.9"/>
<path d="M389.59999999999997 633.2L394.2 637.8M394.2 633.2L389.59999999999997 637.8" stroke="#0b4a80" stroke-width="1.9" fill="none"/>
<line x1="440.3" y1="634.5" x2="440.3" y2="634.5" stroke="#1ea832" stroke-width="1.9"/>
<line x1="433.8" y1="634.5" x2="446.8" y2="634.5" stroke="#1ea832" stroke-width="1.9"/>
<line x1="440.3" y1="635.9" x2="440.3" y2="635.9" stroke="#1ea832" stroke-width="1.9"/>
<line x1="433.8" y1="635.9" x2="446.8" y2="635.9" stroke="#1ea832" stroke-width="1.9"/>
<rect x="421.8" y="634.5" width="37.0" height="1.3999999999999773" fill="none" stroke="#1ea832" stroke-width="1.9"/>
<line x1="421.8" y1="635.2" x2="458.8" y2="635.2" stroke="#1ea832" stroke-width="1.9"/>
<line x1="488.5" y1="628.8" x2="488.5" y2="633.3" stroke="#4a0d58" stroke-width="1.9"/>
<line x1="482.0" y1="628.8" x2="495.0" y2="628.8" stroke="#4a0d58" stroke-width="1.9"/>
<line x1="488.5" y1="637.0" x2="488.5" y2="641.5" stroke="#4a0d58" stroke-width="1.9"/>
<line x1="482.0" y1="641.5" x2="495.0" y2="641.5" stroke="#4a0d58" stroke-width="1.9"/>
<rect x="469.8" y="633.3" width="37.4" height="3.7000000000000455" fill="none" stroke="#4a0d58" stroke-width="1.9"/>
<line x1="469.8" y1="636.5" x2="507.2" y2="636.5" stroke="#4a0d58" stroke-width="1.9"/>
<circle cx="488.5" cy="612.5" r="1.72" fill="#6f4a80" stroke="#4a0d58" stroke-width="1.8"/>
<circle cx="488.5" cy="626.6" r="1.72" fill="#6f4a80" stroke="#4a0d58" stroke-width="1.8"/>
<text x="13" y="735.5" font-size="16" text-anchor="start" font-weight="bold" fill="#000" stroke="#000" stroke-width="0.3">G</text>
<text x="159.6" y="729.8" font-size="12.3" text-anchor="middle" font-weight="normal" fill="#000" textLength="89.3" lengthAdjust="spacingAndGlyphs">Adult r/r DLBCL</text>
<text x="159.4" y="744.8" font-size="12.3" text-anchor="middle" font-weight="normal" fill="#000" textLength="70.4" lengthAdjust="spacingAndGlyphs">Post Infusion</text>
<line x1="62" y1="753.2" x2="62" y2="894.9" stroke="#000" stroke-width="1.9"/>
<line x1="57.7" y1="754.0" x2="62" y2="754.0" stroke="#000" stroke-width="1.5"/>
<text x="54.6" y="758.5160000000001" font-size="10.6" text-anchor="end" font-weight="normal" fill="#000" textLength="12.5" lengthAdjust="spacingAndGlyphs">25</text>
<line x1="57.7" y1="777.3333333333334" x2="62" y2="777.3333333333334" stroke="#000" stroke-width="1.5"/>
<text x="54.6" y="781.8493333333334" font-size="10.6" text-anchor="end" font-weight="normal" fill="#000" textLength="12.5" lengthAdjust="spacingAndGlyphs">20</text>
<line x1="57.7" y1="800.6666666666666" x2="62" y2="800.6666666666666" stroke="#000" stroke-width="1.5"/>
<text x="54.6" y="805.1826666666667" font-size="10.6" text-anchor="end" font-weight="normal" fill="#000" textLength="12.5" lengthAdjust="spacingAndGlyphs">15</text>
<line x1="57.7" y1="824.0" x2="62" y2="824.0" stroke="#000" stroke-width="1.5"/>
<text x="54.6" y="828.5160000000001" font-size="10.6" text-anchor="end" font-weight="normal" fill="#000" textLength="12.5" lengthAdjust="spacingAndGlyphs">10</text>
<line x1="57.7" y1="847.3333333333334" x2="62" y2="847.3333333333334" stroke="#000" stroke-width="1.5"/>
<text x="54.6" y="851.8493333333334" font-size="10.6" text-anchor="end" font-weight="normal" fill="#000" textLength="6.25" lengthAdjust="spacingAndGlyphs">5</text>
<line x1="57.7" y1="870.6666666666666" x2="62" y2="870.6666666666666" stroke="#000" stroke-width="1.5"/>
<text x="54.6" y="875.1826666666667" font-size="10.6" text-anchor="end" font-weight="normal" fill="#000" textLength="6.25" lengthAdjust="spacingAndGlyphs">0</text>
<line x1="57.7" y1="894.0" x2="62" y2="894.0" stroke="#000" stroke-width="1.5"/>
<text x="54.6" y="898.5160000000001" font-size="10.6" text-anchor="end" font-weight="normal" fill="#000" textLength="12.81" lengthAdjust="spacingAndGlyphs">−5</text>
<text transform="translate(24.2,824.2) rotate(-90)" font-size="12.0" text-anchor="middle" font-weight="normal" fill="#000" textLength="142.4" lengthAdjust="spacingAndGlyphs" stroke="#000" stroke-width="0.35">Maximum fold change from baseline</text>
<text transform="translate(39.8,824.0) rotate(-90)" font-size="12.0" text-anchor="middle" font-weight="normal" fill="#000" textLength="95.0" lengthAdjust="spacingAndGlyphs" stroke="#000" stroke-width="0.35">in anti-mCAR antibodies</text>
<line x1="62" y1="894.0" x2="256.9" y2="894.0" stroke="#000" stroke-width="1.9"/>
<line x1="123.3" y1="894.0" x2="123.3" y2="898.2" stroke="#000" stroke-width="1.5"/>
<line x1="189.3" y1="894.0" x2="189.3" y2="898.2" stroke="#000" stroke-width="1.5"/>
<text x="123.3" y="908.7" font-size="10.2" text-anchor="middle" font-weight="normal" fill="#000" textLength="15.62" lengthAdjust="spacingAndGlyphs">CR</text>
<text x="123.3" y="921.4000000000001" font-size="10.2" text-anchor="middle" font-weight="normal" fill="#000" textLength="33.5" lengthAdjust="spacingAndGlyphs">(N<tspan stroke="#000" stroke-width="0.9">=</tspan>36)</text>
<text x="189.4" y="908.7" font-size="10.2" text-anchor="middle" font-weight="normal" fill="#000" textLength="51.07" lengthAdjust="spacingAndGlyphs">PR/SD/PD</text>
<text x="189.4" y="921.4000000000001" font-size="10.2" text-anchor="middle" font-weight="normal" fill="#000" textLength="33.5" lengthAdjust="spacingAndGlyphs">(N<tspan stroke="#000" stroke-width="0.9">=</tspan>62)</text>
<text x="159.2" y="934.8" font-size="12.0" text-anchor="middle" font-weight="normal" fill="#000" textLength="106" lengthAdjust="spacingAndGlyphs" stroke="#000" stroke-width="0.3">Month 3 response category</text>
<line x1="123.3" y1="859.9" x2="123.3" y2="863.4" stroke="#c20a2c" stroke-width="1.9"/>
<line x1="116.8" y1="859.9" x2="129.8" y2="859.9" stroke="#c20a2c" stroke-width="1.9"/>
<line x1="123.3" y1="867.8" x2="123.3" y2="872.0" stroke="#c20a2c" stroke-width="1.9"/>
<line x1="116.8" y1="872.0" x2="129.8" y2="872.0" stroke="#c20a2c" stroke-width="1.9"/>
<rect x="100.8" y="863.4" width="45.0" height="4.399999999999977" fill="none" stroke="#c20a2c" stroke-width="1.9"/>
<line x1="100.8" y1="866.5" x2="145.8" y2="866.5" stroke="#c20a2c" stroke-width="1.9"/>
<circle cx="123.3" cy="854.3" r="1.72" fill="#d84860" stroke="#c20a2c" stroke-width="1.8"/>
<circle cx="123.3" cy="856.9" r="1.72" fill="#d84860" stroke="#c20a2c" stroke-width="1.8"/>
<circle cx="123.3" cy="766.5" r="1.72" fill="#d84860" stroke="#c20a2c" stroke-width="1.8"/>
<circle cx="123.3" cy="772.5" r="1.72" fill="#d84860" stroke="#c20a2c" stroke-width="1.8"/>
<circle cx="123.3" cy="792.0" r="1.72" fill="#d84860" stroke="#c20a2c" stroke-width="1.8"/>
<line x1="189.4" y1="861.1" x2="189.4" y2="865.5" stroke="#0b4a80" stroke-width="1.9"/>
<line x1="182.9" y1="861.1" x2="195.9" y2="861.1" stroke="#0b4a80" stroke-width="1.9"/>
<line x1="189.4" y1="868.8" x2="189.4" y2="872.6" stroke="#0b4a80" stroke-width="1.9"/>
<line x1="182.9" y1="872.6" x2="195.9" y2="872.6" stroke="#0b4a80" stroke-width="1.9"/>
<rect x="166.8" y="865.5" width="45.2" height="3.2999999999999545" fill="none" stroke="#0b4a80" stroke-width="1.9"/>
<line x1="166.8" y1="867.0" x2="212.0" y2="867.0" stroke="#0b4a80" stroke-width="1.9"/>
<circle cx="189.4" cy="843.7" r="1.72" fill="#3f6f9f" stroke="#0b4a80" stroke-width="1.8"/>
<circle cx="189.4" cy="858.1" r="1.72" fill="#3f6f9f" stroke="#0b4a80" stroke-width="1.8"/>
<text x="267" y="735.2" font-size="16" text-anchor="start" font-weight="bold" fill="#000" stroke="#000" stroke-width="0.3">H</text>
<text x="413.6" y="729.4" font-size="12.3" text-anchor="middle" font-weight="normal" fill="#000" textLength="89.5" lengthAdjust="spacingAndGlyphs">Adult r/r DLBCL</text>
<text x="414.0" y="744.1" font-size="12.3" text-anchor="middle" font-weight="normal" fill="#000" textLength="70.1" lengthAdjust="spacingAndGlyphs">Post Infusion</text>
<line x1="316.8" y1="753.2" x2="316.8" y2="894.9" stroke="#000" stroke-width="1.9"/>
<line x1="312.5" y1="754.0" x2="316.8" y2="754.0" stroke="#000" stroke-width="1.5"/>
<text x="309.2" y="758.5160000000001" font-size="10.6" text-anchor="end" font-weight="normal" fill="#000" textLength="12.5" lengthAdjust="spacingAndGlyphs">25</text>
<line x1="312.5" y1="777.3333333333334" x2="316.8" y2="777.3333333333334" stroke="#000" stroke-width="1.5"/>
<text x="309.2" y="781.8493333333334" font-size="10.6" text-anchor="end" font-weight="normal" fill="#000" textLength="12.5" lengthAdjust="spacingAndGlyphs">20</text>
<line x1="312.5" y1="800.6666666666666" x2="316.8" y2="800.6666666666666" stroke="#000" stroke-width="1.5"/>
<text x="309.2" y="805.1826666666667" font-size="10.6" text-anchor="end" font-weight="normal" fill="#000" textLength="12.5" lengthAdjust="spacingAndGlyphs">15</text>
<line x1="312.5" y1="824.0" x2="316.8" y2="824.0" stroke="#000" stroke-width="1.5"/>
<text x="309.2" y="828.5160000000001" font-size="10.6" text-anchor="end" font-weight="normal" fill="#000" textLength="12.5" lengthAdjust="spacingAndGlyphs">10</text>
<line x1="312.5" y1="847.3333333333334" x2="316.8" y2="847.3333333333334" stroke="#000" stroke-width="1.5"/>
<text x="309.2" y="851.8493333333334" font-size="10.6" text-anchor="end" font-weight="normal" fill="#000" textLength="6.25" lengthAdjust="spacingAndGlyphs">5</text>
<line x1="312.5" y1="870.6666666666666" x2="316.8" y2="870.6666666666666" stroke="#000" stroke-width="1.5"/>
<text x="309.2" y="875.1826666666667" font-size="10.6" text-anchor="end" font-weight="normal" fill="#000" textLength="6.25" lengthAdjust="spacingAndGlyphs">0</text>
<line x1="312.5" y1="894.0" x2="316.8" y2="894.0" stroke="#000" stroke-width="1.5"/>
<text x="309.2" y="898.5160000000001" font-size="10.6" text-anchor="end" font-weight="normal" fill="#000" textLength="12.81" lengthAdjust="spacingAndGlyphs">−5</text>
<text transform="translate(280.2,824.2) rotate(-90)" font-size="12.0" text-anchor="middle" font-weight="normal" fill="#000" textLength="142.4" lengthAdjust="spacingAndGlyphs" stroke="#000" stroke-width="0.35">Maximum fold change from baseline</text>
<text transform="translate(295.6,824.0) rotate(-90)" font-size="12.0" text-anchor="middle" font-weight="normal" fill="#000" textLength="95.0" lengthAdjust="spacingAndGlyphs" stroke="#000" stroke-width="0.35">in anti-mCAR antibodies</text>
<line x1="316.8" y1="894.0" x2="511.3" y2="894.0" stroke="#000" stroke-width="1.9"/>
<line x1="378.5" y1="894.0" x2="378.5" y2="898.2" stroke="#000" stroke-width="1.5"/>
<line x1="444.5" y1="894.0" x2="444.5" y2="898.2" stroke="#000" stroke-width="1.5"/>
<text x="377.6" y="908.8" font-size="10.2" text-anchor="middle" font-weight="normal" fill="#000" textLength="33.64" lengthAdjust="spacingAndGlyphs">CR/PR</text>
<text x="377.6" y="921.5" font-size="10.2" text-anchor="middle" font-weight="normal" fill="#000" textLength="33.5" lengthAdjust="spacingAndGlyphs">(N<tspan stroke="#000" stroke-width="0.9">=</tspan>42)</text>
<text x="444.3" y="908.8" font-size="10.2" text-anchor="middle" font-weight="normal" fill="#000" textLength="33.04" lengthAdjust="spacingAndGlyphs">SD/PD</text>
<text x="444.3" y="921.5" font-size="10.2" text-anchor="middle" font-weight="normal" fill="#000" textLength="33.5" lengthAdjust="spacingAndGlyphs">(N<tspan stroke="#000" stroke-width="0.9">=</tspan>56)</text>
<text x="413.8" y="935.6" font-size="12.0" text-anchor="middle" font-weight="normal" fill="#000" textLength="106.6" lengthAdjust="spacingAndGlyphs" stroke="#000" stroke-width="0.3">Month 3 response category</text>
<line x1="378.5" y1="859.6" x2="378.5" y2="863.7" stroke="#c20a2c" stroke-width="1.9"/>
<line x1="372.0" y1="859.6" x2="385.0" y2="859.6" stroke="#c20a2c" stroke-width="1.9"/>
<line x1="378.5" y1="868.2" x2="378.5" y2="871.9" stroke="#c20a2c" stroke-width="1.9"/>
<line x1="372.0" y1="871.9" x2="385.0" y2="871.9" stroke="#c20a2c" stroke-width="1.9"/>
<rect x="356.0" y="863.7" width="45.0" height="4.5" fill="none" stroke="#c20a2c" stroke-width="1.9"/>
<line x1="356.0" y1="867.4" x2="401.0" y2="867.4" stroke="#c20a2c" stroke-width="1.9"/>
<circle cx="377.8" cy="854.2" r="1.72" fill="#d84860" stroke="#c20a2c" stroke-width="1.8"/>
<circle cx="377.8" cy="855.8" r="1.72" fill="#d84860" stroke="#c20a2c" stroke-width="1.8"/>
<circle cx="377.8" cy="766.3" r="1.72" fill="#d84860" stroke="#c20a2c" stroke-width="1.8"/>
<circle cx="377.8" cy="772.5" r="1.72" fill="#d84860" stroke="#c20a2c" stroke-width="1.8"/>
<circle cx="377.8" cy="792.0" r="1.72" fill="#d84860" stroke="#c20a2c" stroke-width="1.8"/>
<line x1="444.5" y1="859.3" x2="444.5" y2="864.8" stroke="#0b4a80" stroke-width="1.9"/>
<line x1="438.0" y1="859.3" x2="451.0" y2="859.3" stroke="#0b4a80" stroke-width="1.9"/>
<line x1="444.5" y1="868.6" x2="444.5" y2="872.4" stroke="#0b4a80" stroke-width="1.9"/>
<line x1="438.0" y1="872.4" x2="451.0" y2="872.4" stroke="#0b4a80" stroke-width="1.9"/>
<rect x="422.2" y="864.8" width="44.6" height="3.800000000000068" fill="none" stroke="#0b4a80" stroke-width="1.9"/>
<line x1="422.2" y1="868.4" x2="466.8" y2="868.4" stroke="#0b4a80" stroke-width="1.9"/>
<circle cx="444.5" cy="843.8" r="1.72" fill="#3f6f9f" stroke="#0b4a80" stroke-width="1.8"/>
<circle cx="444.5" cy="857.8" r="1.72" fill="#3f6f9f" stroke="#0b4a80" stroke-width="1.8"/>
</svg>
</body></html>
